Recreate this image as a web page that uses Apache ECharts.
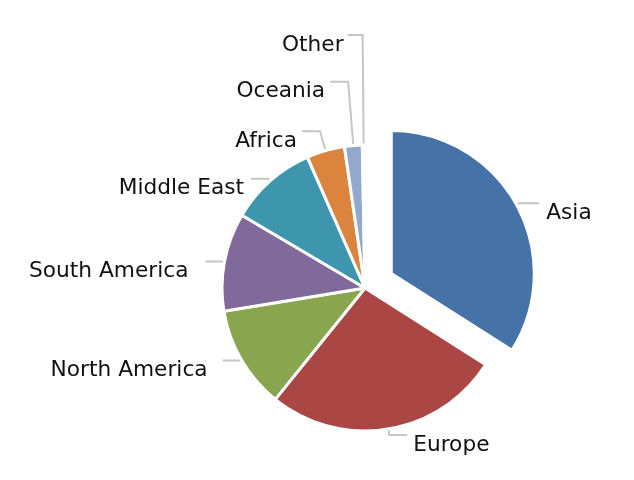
<!DOCTYPE html>
<html>
<head>
<meta charset="utf-8">
<script src="https://cdn.jsdelivr.net/npm/echarts@6/dist/echarts.min.js"></script>
<style>
html,body{margin:0;padding:0;background:#fff;}
#main{width:634px;height:480px;}
</style>
</head>
<body>
<div id="main"></div>
<script>
var categories = ['Asia', 'Europe', 'North America', 'South America', 'Middle East', 'Africa', 'Oceania', 'Other'];
var values = [34.0, 26.8, 11.6, 11.1, 9.9, 4.3, 2.0, 0.3];
var colors = ['#4572A7', '#AA4643', '#89A54E', '#80699B', '#3D96AE', '#DB843D', '#92A8CD', '#A47D7C'];
var lineLen = [3, 6, 1, 1, 3, 20, 64, 110];
var lineLen2 = [20, 18, 18, 18, 17, 18, 18, 15];
var labelGap = [7, 6, 15, 17, 7, 5, 5, 4];
var exploded = ['Asia'];

var data = categories.map(function (c, i) {
  return {
    name: c,
    value: values[i],
    selected: exploded.indexOf(c) >= 0,
    itemStyle: { color: colors[i] },
    label: { distanceToLabelLine: labelGap[i] },
    labelLine: { length: lineLen[i], length2: lineLen2[i] }
  };
});

var chart = echarts.init(document.getElementById('main'), null, { renderer: 'canvas' });
chart.setOption({
  animation: false,
  backgroundColor: '#ffffff',
  series: [{
    type: 'pie',
    center: [365, 288],
    radius: [0, 143],
    startAngle: 90,
    clockwise: true,
    selectedMode: 'single',
    selectedOffset: 30,
    avoidLabelOverlap: false,
    minShowLabelAngle: 0,
    itemStyle: { borderColor: '#ffffff', borderWidth: 3 },
    select: { itemStyle: { borderColor: '#ffffff', borderWidth: 3 } },
    emphasis: { disabled: true },
    label: {
      show: true,
      position: 'outside',
      formatter: function (p) { return '{p|}\n{t|' + p.name + '}'; },
      rich: {
        p: { height: 20, fontSize: 10 },
        t: { fontFamily: 'DejaVu Sans', fontSize: 21.7, color: '#111111', lineHeight: 26 }
      },
      fontFamily: 'DejaVu Sans',
      fontSize: 21.7,
      color: '#111111'
    },
    labelLine: {
      show: true,
      smooth: false,
      lineStyle: { color: '#c6c6c6', width: 2 }
    },
    data: data
  }]
});
</script>
</body>
</html>
